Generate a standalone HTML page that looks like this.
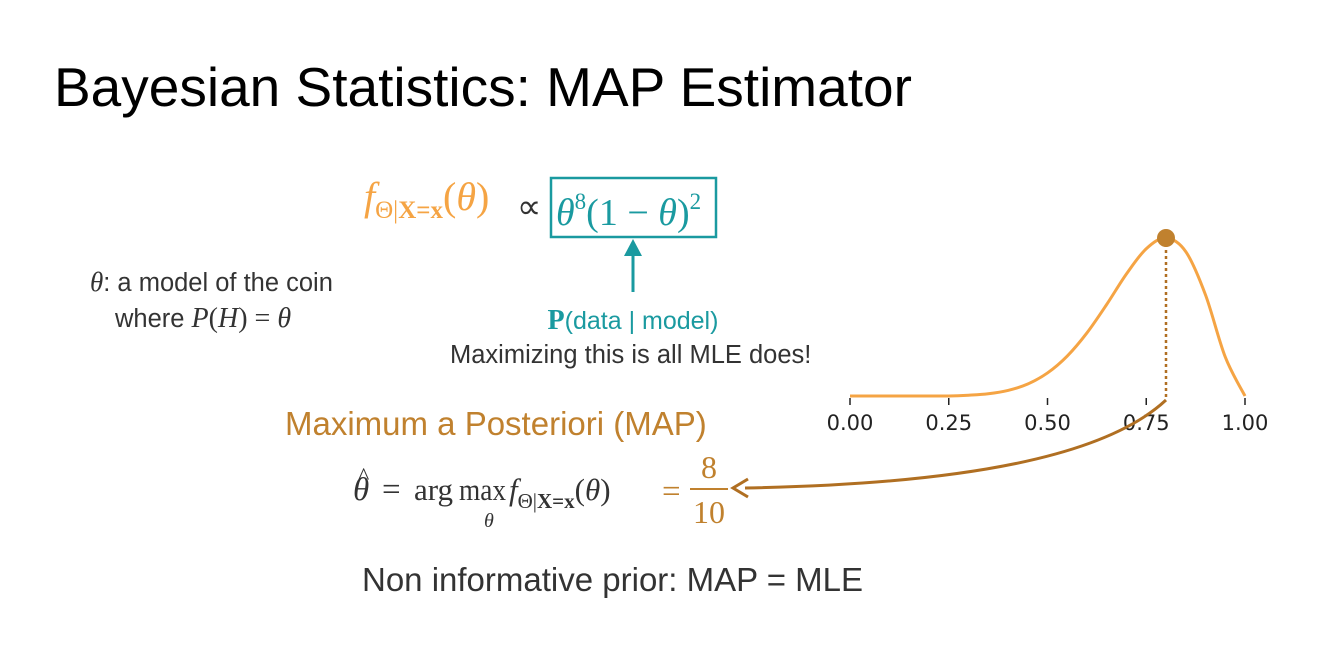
<!DOCTYPE html>
<html><head><meta charset="utf-8"><style>
html,body{margin:0;padding:0;background:#fff;width:1320px;height:655px;overflow:hidden}
svg{display:block}
.serif{font-family:"Liberation Serif",serif}
.sans{font-family:"Liberation Sans",sans-serif}
</style></head><body>
<svg width="1320" height="655" viewBox="0 0 1320 655">
<text x="54" y="106" class="sans" font-size="55" fill="#000">Bayesian Statistics: MAP Estimator</text>

<g class="sans" font-size="25.5" fill="#333">
<text x="90" y="291"><tspan class="serif" font-style="italic" font-size="27">θ</tspan>: a model of the coin</text>
<text x="115" y="327">where <tspan class="serif" font-style="italic" font-size="28">P</tspan><tspan class="serif" font-size="28">(</tspan><tspan class="serif" font-style="italic" font-size="28">H</tspan><tspan class="serif" font-size="28">) = </tspan><tspan class="serif" font-style="italic" font-size="28">θ</tspan></text>
</g>

<g class="serif">
<text x="364" y="210" font-size="40" fill="#f5a444"><tspan font-style="italic">f</tspan><tspan font-size="25" dy="8">Θ|<tspan font-weight="bold">X=x</tspan></tspan><tspan dy="-8">(</tspan><tspan font-style="italic">θ</tspan>)</text>
<text x="517" y="218" font-size="34" fill="#333">∝</text>
<rect x="551" y="178" width="165" height="59" fill="none" stroke="#1a9aa0" stroke-width="2.5"/>
<text x="556" y="225" font-size="38" fill="#1a9aa0"><tspan font-style="italic">θ</tspan><tspan font-size="23" dy="-16">8</tspan><tspan dy="16">(1 − </tspan><tspan font-style="italic">θ</tspan>)<tspan font-size="23" dy="-16">2</tspan></text>
</g>
<g>
<line x1="633" y1="292" x2="633" y2="254" stroke="#1a9aa0" stroke-width="3"/>
<polygon points="624,256 642,256 633,239" fill="#1a9aa0"/>
</g>
<text x="633" y="329" text-anchor="middle" class="sans" font-size="25" fill="#1a9aa0"><tspan class="serif" font-weight="bold" font-size="28">P</tspan>(data | model)</text>
<text x="450" y="363" class="sans" font-size="25.5" fill="#333">Maximizing this is all MLE does!</text>

<text x="285" y="435" class="sans" font-size="33" fill="#c0812e">Maximum a Posteriori (MAP)</text>

<g class="serif" fill="#333">
<text x="353" y="500" font-size="33" font-style="italic">θ</text>
<text x="358" y="484" font-size="24">^</text>
<text x="382" y="500" font-size="33">=</text>
<text x="414" y="500" font-size="31">arg</text>
<text x="459" y="500" font-size="31" textLength="47" lengthAdjust="spacingAndGlyphs">max</text>
<text x="484" y="527" font-size="20" font-style="italic">θ</text>
<text x="509" y="500" font-size="31"><tspan font-style="italic">f</tspan><tspan font-size="21" dy="8">Θ|<tspan font-weight="bold">X=x</tspan></tspan><tspan dy="-8">(</tspan><tspan font-style="italic">θ</tspan>)</text>
<text x="662" y="502" font-size="33" fill="#c0812e">=</text>
<text x="709" y="478" font-size="32" fill="#c0812e" text-anchor="middle">8</text>
<line x1="690" y1="489" x2="728" y2="489" stroke="#c0812e" stroke-width="2"/>
<text x="709" y="523" font-size="32" fill="#c0812e" text-anchor="middle">10</text>
</g>

<text x="362" y="591" class="sans" font-size="33" fill="#333">Non informative prior: MAP = MLE</text>

<g id="chart"></g>
</svg>
<script>
const thetas=[0,0.05,0.1,0.15,0.2,0.25,0.3,0.35,0.4,0.45,0.5,0.55,0.6,0.65,0.7,0.75,0.8,0.85,0.9,0.95,1.0];
const density=[0,0,0,0,0,0,0.005,0.014,0.035,0.076,0.146,0.253,0.40,0.58,0.773,0.932,1.0,0.914,0.64,0.247,0];
const tickValues=[0,0.25,0.5,0.75,1.0];
const tickLabels=["0.00","0.25","0.50","0.75","1.00"];
const mapTheta=[0.8];
const mapDensity=[1.0];

const NS="http://www.w3.org/2000/svg";
const g=document.getElementById('chart');
const X0=850,X1=1245,Y0=396,H=158;
const sx=v=>X0+v*(X1-X0);
const sy=v=>Y0-v*H;
function mk(t,a){const e=document.createElementNS(NS,t);for(const k in a)e.setAttribute(k,a[k]);g.appendChild(e);return e;}
const pts=thetas.map((t,i)=>[sx(t),sy(density[i])]);
let d=`M${pts[0][0]},${pts[0][1]}`;
for(let i=0;i<pts.length-1;i++){
  const p0=pts[Math.max(0,i-1)],p1=pts[i],p2=pts[i+1],p3=pts[Math.min(pts.length-1,i+2)];
  const c1=[p1[0]+(p2[0]-p0[0])/6,p1[1]+(p2[1]-p0[1])/6];
  const c2=[p2[0]-(p3[0]-p1[0])/6,p2[1]-(p3[1]-p1[1])/6];
  d+=` C${c1[0]},${c1[1]} ${c2[0]},${c2[1]} ${p2[0]},${p2[1]}`;
}
const curve=mk('path',{d:d,fill:'none',stroke:'#f5a444','stroke-width':3});


tickValues.forEach((v,i)=>{
  const tk=mk('line',{x1:sx(v),x2:sx(v),y1:Y0+2,y2:Y0+9,stroke:'#222','stroke-width':1.5});
  
  
  const lb=mk('text',{x:sx(v),y:Y0+34,'text-anchor':'middle','font-family':'DejaVu Sans, sans-serif','font-size':21,fill:'#222'});
  lb.textContent=tickLabels[i];
  
  
});
mapTheta.forEach((t,i)=>{
  const dl=mk('line',{x1:sx(t),x2:sx(t),y1:sy(mapDensity[i]),y2:Y0+4,stroke:'#b06f22','stroke-width':2.5,'stroke-dasharray':'3,3'});
  
  
  const c=mk('circle',{cx:sx(t),cy:sy(mapDensity[i]),r:9,fill:'#c0812e'});
  
  
  const ar=mk('path',{d:`M${sx(t)},${Y0+4} C${sx(t)-60},${Y0+60} ${sx(t)-200},${Y0+88} 745,488`,fill:'none',stroke:'#b06f22','stroke-width':3});
  
  
  const ah=mk('path',{d:'M748,479 L733,488 L748,497',fill:'none',stroke:'#b06f22','stroke-width':3});
  
  
});
</script>
</body></html>
